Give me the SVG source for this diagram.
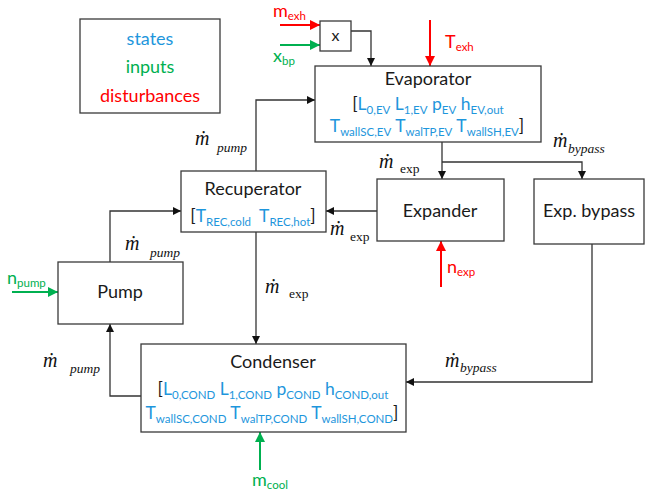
<svg xmlns="http://www.w3.org/2000/svg" width="646" height="493" viewBox="0 0 646 493">
<defs>
<style>
.box{fill:#fff;stroke:#3a3a3a;stroke-width:1.3}
.ln{fill:none;stroke:#333;stroke-width:1.3}
.lr{fill:none;stroke:#ff0000;stroke-width:2}
.lg{fill:none;stroke:#00b050;stroke-width:2}
.t{font-family:Lato,"Open Sans","Liberation Sans",sans-serif;font-size:18px;fill:#1a1a1a}
.st{font-family:Lato,"Open Sans","Liberation Sans",sans-serif;font-size:17.5px;fill:#1e96dc}
.k{fill:#1a1a1a}
.s{font-size:11.5px}
.blue{fill:#1e96dc}
.green{fill:#00b050}
.red{fill:#ff0000}
.md{font-family:"Liberation Serif","DejaVu Serif",serif;font-style:italic;font-size:20px;fill:#111}
.ms{font-size:13.5px}
.up{font-style:normal}
</style>
<marker id="ak" viewBox="0 0 10 10" refX="10" refY="5" markerWidth="8" markerHeight="8" markerUnits="userSpaceOnUse" orient="auto"><path d="M0,0 L10,5 L0,10 z" fill="#111"/></marker>
<marker id="ar" viewBox="0 0 10 10" refX="10" refY="5" markerWidth="10" markerHeight="10" markerUnits="userSpaceOnUse" orient="auto"><path d="M0,0 L10,5 L0,10 z" fill="#ff0000"/></marker>
<marker id="ag" viewBox="0 0 10 10" refX="10" refY="5" markerWidth="10" markerHeight="10" markerUnits="userSpaceOnUse" orient="auto"><path d="M0,0 L10,5 L0,10 z" fill="#00b050"/></marker>
</defs>
<rect width="646" height="493" fill="#fff"/>

<g id="legend">
<rect class="box" x="80" y="19" width="140" height="94"/>
<text class="t blue" x="150" y="45" text-anchor="middle">states</text>
<text class="t green" x="150" y="73" text-anchor="middle">inputs</text>
<text class="t red" x="150" y="102" text-anchor="middle">disturbances</text>
</g>

<g id="connectors">
<path class="ln" d="M110,262 V211 H181" marker-end="url(#ak)"/>
<path class="ln" d="M377,211 H326" marker-end="url(#ak)"/>
<path class="ln" d="M256,171 V100 H315" marker-end="url(#ak)"/>
<path class="ln" d="M256,232 V344" marker-end="url(#ak)"/>
<path class="ln" d="M141,396 H110 V324" marker-end="url(#ak)"/>
<path class="ln" d="M442,142 V179" marker-end="url(#ak)"/>
<path class="ln" d="M442,162 H582 V179" marker-end="url(#ak)"/>
<path class="ln" d="M592,244 V382 H406" marker-end="url(#ak)"/>
<path class="ln" d="M351,31 H371 V66" marker-end="url(#ak)"/>
<path class="lr" d="M280,25 H320" marker-end="url(#ar)"/>
<path class="lg" d="M280,45 H320" marker-end="url(#ag)"/>
<path class="lr" d="M430,20 V66" marker-end="url(#ar)"/>
<path class="lr" d="M441,287 V241" marker-end="url(#ar)"/>
<path class="lg" d="M12,292 H58" marker-end="url(#ag)"/>
<path class="lg" d="M260,470 V432" marker-end="url(#ag)"/>
<text class="md" x="195" y="145">ṁ<tspan class="ms" x="217" y="152">pump</tspan></text>
<text class="md" x="125" y="250">ṁ<tspan class="ms" x="150" y="257">pump</tspan></text>
<text class="md" x="43" y="367">ṁ<tspan class="ms" x="70" y="373">pump</tspan></text>
<text class="md" x="330" y="235">ṁ<tspan class="ms up" x="350" y="241">exp</tspan></text>
<text class="md" x="379" y="168">ṁ<tspan class="ms up" x="400" y="173">exp</tspan></text>
<text class="md" x="265" y="293">ṁ<tspan class="ms up" x="289" y="298">exp</tspan></text>
<text class="md" x="553" y="147">ṁ<tspan class="ms" x="568" y="153">bypass</tspan></text>
<text class="md" x="445" y="367">ṁ<tspan class="ms" x="460" y="372">bypass</tspan></text>
<text class="t red" x="273" y="17">m<tspan class="s" dy="3">exh</tspan></text>
<text class="t green" x="273" y="62">x<tspan class="s" dy="3">bp</tspan></text>
<text class="t red" x="445" y="48">T<tspan class="s" dy="3">exh</tspan></text>
<text class="t red" x="447" y="273">n<tspan class="s" dy="3">exp</tspan></text>
<text class="t green" x="7" y="284">n<tspan class="s" dy="3">pump</tspan></text>
<text class="t green" x="252" y="486">m<tspan class="s" dy="3">cool</tspan></text>
</g>

<g id="mult">
<rect class="box" x="320" y="21" width="31" height="30"/>
<text class="t" x="335.5" y="41" text-anchor="middle" style="font-size:16px">x</text>
</g>

<g id="evaporator">
<rect class="box" x="315" y="66" width="226" height="76"/>
<text class="t" x="428" y="85" text-anchor="middle">Evaporator</text>
<text class="st" x="428" y="110" text-anchor="middle"><tspan class="k">[</tspan>L<tspan class="s" dy="4">0,EV</tspan><tspan dy="-4"> L</tspan><tspan class="s" dy="4">1,EV</tspan><tspan dy="-4"> p</tspan><tspan class="s" dy="4">EV</tspan><tspan dy="-4"> h</tspan><tspan class="s" dy="4">EV,out</tspan></text>
<text class="st" x="427" y="132" text-anchor="middle">T<tspan class="s" dy="4">wallSC,EV</tspan><tspan dy="-4"> T</tspan><tspan class="s" dy="4">walTP,EV</tspan><tspan dy="-4"> T</tspan><tspan class="s" dy="4">wallSH,EV</tspan><tspan class="k" dy="-4">]</tspan></text>
</g>

<g id="recuperator">
<rect class="box" x="181" y="171" width="145" height="61"/>
<text class="t" x="253" y="195" text-anchor="middle">Recuperator</text>
<text class="st" x="253" y="222" text-anchor="middle"><tspan class="k">[</tspan>T<tspan class="s" dy="4">REC,cold</tspan><tspan dy="-4" dx="8">T</tspan><tspan class="s" dy="4">REC,hot</tspan><tspan class="k" dy="-4">]</tspan></text>
</g>

<g id="expander">
<rect class="box" x="377" y="179" width="127" height="62"/>
<text class="t" x="440" y="217" text-anchor="middle">Expander</text>
</g>

<g id="bypass">
<rect class="box" x="534" y="179" width="110" height="65"/>
<text class="t" x="589" y="217" text-anchor="middle">Exp. bypass</text>
</g>

<g id="pump">
<rect class="box" x="58" y="262" width="125" height="62"/>
<text class="t" x="120" y="298" text-anchor="middle">Pump</text>
</g>

<g id="condenser">
<rect class="box" x="141" y="344" width="265" height="88"/>
<text class="t" x="273" y="368" text-anchor="middle">Condenser</text>
<text class="st" x="273" y="395" text-anchor="middle"><tspan class="k">[</tspan>L<tspan class="s" dy="4">0,COND</tspan><tspan dy="-4"> L</tspan><tspan class="s" dy="4">1,COND</tspan><tspan dy="-4"> p</tspan><tspan class="s" dy="4">COND</tspan><tspan dy="-4"> h</tspan><tspan class="s" dy="4">COND,out</tspan></text>
<text class="st" x="272" y="419" text-anchor="middle">T<tspan class="s" dy="4">wallSC,COND</tspan><tspan dy="-4"> T</tspan><tspan class="s" dy="4">walTP,COND</tspan><tspan dy="-4"> T</tspan><tspan class="s" dy="4">wallSH,COND</tspan><tspan class="k" dy="-4">]</tspan></text>
</g>
</svg>
